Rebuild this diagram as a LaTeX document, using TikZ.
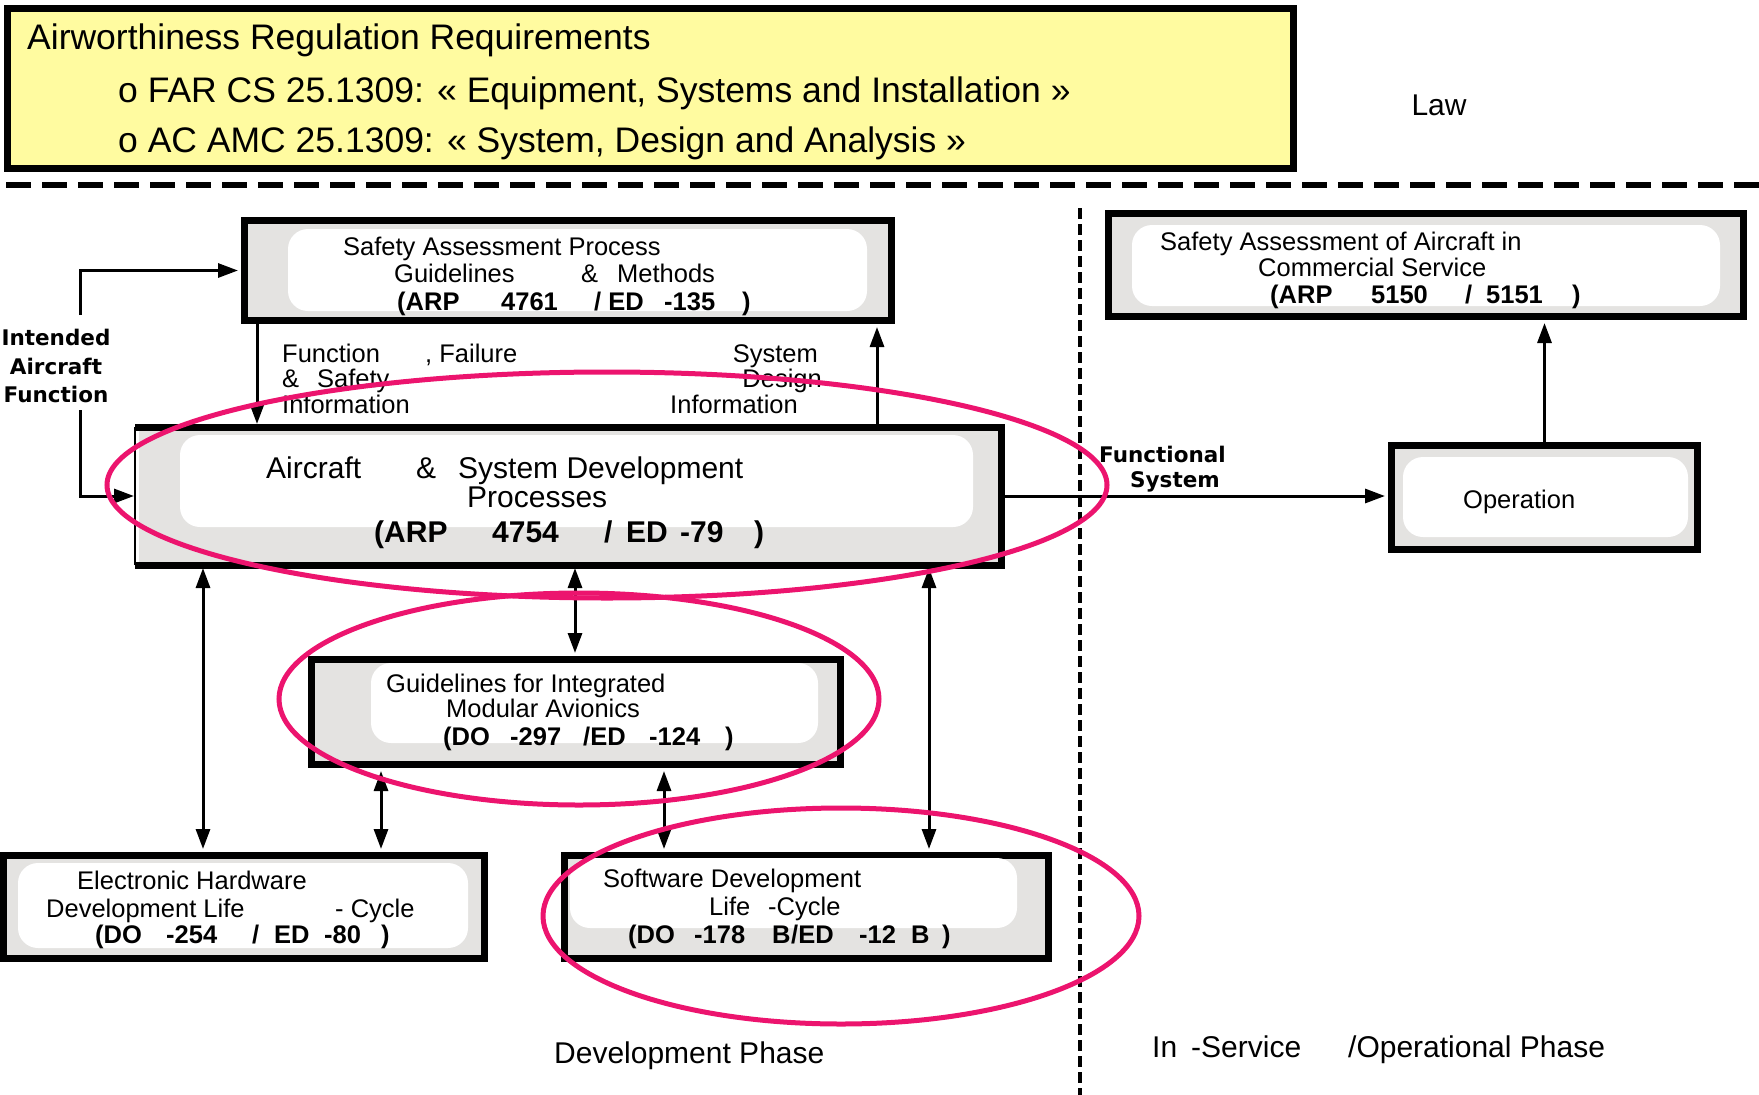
\documentclass[tikz,border=0pt]{standalone}
\usepackage{fontspec}
\setmainfont{Liberation Sans}
\newfontfamily\dvsans{DejaVu Sans}
\usetikzlibrary{arrows.meta}
\definecolor{panelgray}{RGB}{228,227,225}
\definecolor{lawyellow}{RGB}{255,251,160}
\definecolor{markpink}{RGB}{236,20,110}
\begin{document}
\begin{tikzpicture}[x=1pt,y=-1pt,
  panel/.style={draw, line width=7pt, fill=panelgray, inner sep=0pt},
  innerpad/.style={fill=white, rounded corners=20pt},
  txt/.style={inner sep=0pt, anchor=base west, font=\fontsize{25.5}{30}\selectfont},
  txtb/.style={inner sep=0pt, anchor=base west, font=\fontsize{25.5}{30}\selectfont\bfseries},
  bigtxt/.style={inner sep=0pt, anchor=base west, font=\fontsize{30}{34}\selectfont},
  bigtxtb/.style={inner sep=0pt, anchor=base west, font=\fontsize{30}{34}\selectfont\bfseries},
  hdrtxt/.style={inner sep=0pt, anchor=base west, font=\fontsize{35.5}{40}\selectfont},
  flowlabel/.style={inner sep=0pt, font=\dvsans\bfseries\fontsize{21.5}{28.5}\selectfont},
  conn/.style={line width=3pt, shorten >=3pt, >={Triangle[length=20pt,width=14pt]}},
  ring/.style={draw=markpink, line width=5pt},
  rulerH/.style={line width=6pt, dash pattern=on 25pt off 11pt},
  rulerV/.style={line width=3.5pt, dash pattern=on 11pt off 5pt}]

\useasboundingbox (0,0) rectangle (1759,1095);

% regulation header
\node[panel, fill=lawyellow, minimum width=1286pt, minimum height=160pt] (hdr) at (650.5,88.5) {};
\node[hdrtxt] (hdr1) at (27,49) {Airworthiness Regulation Requirements};
\node[hdrtxt] (hdr2) at (118,102) {o FAR CS 25.1309: « Equipment, Systems and Installation »};
\node[hdrtxt] (hdr3) at (118,152) {o AC AMC 25.1309: « System, Design and Analysis »};
\node[inner sep=0pt, anchor=base, font=\fontsize{30}{34}\selectfont] (law) at (1439,115) {Law};

% phase separators
\coordinate (hl) at (6,185);
\coordinate (hr) at (1759,185);
\draw[rulerH] (hl) -- (hr);
\coordinate (vt) at (1080,208);
\coordinate (vb) at (1080,1095);
\draw[rulerV] (vt) -- (vb);

% safety assessment process
\node[panel, minimum width=647pt, minimum height=100pt] (sap) at (568,270.5) {};
\fill[innerpad] (288,229) rectangle (867,311);
\node[txt] (sap1) at (343,255) {Safety Assessment Process};
\node[txt] (sap2) at (394,282) {\makebox[187pt][l]{Guidelines}\makebox[36pt][l]{\&}Methods};
\node[txtb] (sap3) at (397,310) {\makebox[104pt][l]{(ARP}\makebox[93pt][l]{4761}\makebox[70pt][l]{/ ED}\makebox[78pt][l]{-135})};

% aircraft and system development
\node[panel, draw=none, minimum width=859pt, minimum height=131pt] (asd) at (568,496) {};
\draw[line width=7pt, line cap=square] (asd.north west) -- (asd.north east) -- (asd.south east) -- (asd.south west);
\draw[line width=2pt] (asd.south west) -- (asd.north west);
\fill[innerpad] (180,435) rectangle (973,527);
\node[bigtxt] (asd1) at (266,478) {\makebox[150pt][l]{Aircraft}\makebox[42pt][l]{\&}System Development};
\node[bigtxt] (asd2) at (467,507) {Processes};
\node[bigtxtb] (asd3) at (374,542) {\makebox[118pt][l]{(ARP}\makebox[112pt][l]{4754}\makebox[22pt][l]{/}\makebox[54pt][l]{ED}\makebox[74pt][l]{-79})};

% in-service safety assessment
\node[panel, minimum width=635pt, minimum height=103pt] (saac) at (1426,265) {};
\fill[innerpad] (1132,225) rectangle (1720,306);
\node[txt] (saac1) at (1160,250) {Safety Assessment of Aircraft in};
\node[txt] (saac2) at (1258,276) {Commercial Service};
\node[txtb] (saac3) at (1270,303) {\makebox[101pt][l]{(ARP}\makebox[94pt][l]{5150}\makebox[21pt][l]{/}\makebox[86pt][l]{5151})};

% operation
\node[panel, minimum width=306pt, minimum height=104pt] (op) at (1544.5,497.5) {};
\fill[innerpad] (1403,457) rectangle (1688,537);
\node[txt] (op1) at (1463,508) {Operation};

% integrated modular avionics
\node[panel, minimum width=529pt, minimum height=105pt] (ima) at (576,712) {};
\fill[innerpad] (371,663) rectangle (818,743);
\node[txt] (ima1) at (386,692) {Guidelines for Integrated};
\node[txt] (ima2) at (446,717) {Modular Avionics};
\node[txtb] (ima3) at (443,745) {\makebox[67pt][l]{(DO}\makebox[73pt][l]{-297}\makebox[66pt][l]{/ED}\makebox[76pt][l]{-124})};

% electronic hardware
\node[panel, minimum width=481pt, minimum height=103pt] (hw) at (244,907) {};
\fill[innerpad] (18,863) rectangle (468,948);
\node[txt] (hw1) at (77,889) {Electronic Hardware};
\node[txt] (hw2) at (46,917) {\makebox[289pt][l]{Development Life}- Cycle};
\node[txtb] (hw3) at (95,943) {\makebox[71pt][l]{(DO}\makebox[86pt][l]{-254}\makebox[22pt][l]{/}\makebox[50pt][l]{ED}\makebox[57pt][l]{-80})};

% software
\node[panel, minimum width=484pt, minimum height=103pt] (sw) at (806.5,907) {};
\fill[innerpad] (570,858) rectangle (1017,928);
\node[txt] (sw1) at (603,887) {Software Development};
\node[txt] (sw2) at (709,915) {\makebox[59pt][l]{Life}-Cycle};
\node[txtb] (sw3) at (628,943) {\makebox[66pt][l]{(DO}\makebox[78pt][l]{-178}\makebox[19pt][l]{B}\makebox[68pt][l]{/ED}\makebox[52pt][l]{-12}\makebox[31pt][l]{B})};

% information flow labels
\node[txt] (ff1) at (282,362) {\makebox[143pt][l]{Function}, Failure};
\node[txt] (ff2) at (282,387) {\makebox[35pt][l]{\&}Safety};
\node[txt] (ff3) at (282,413) {Information};
\node[txt, anchor=base east] (sd1) at (818,362) {System};
\node[txt, anchor=base east] (sd2) at (822,387) {Design};
\node[txt, anchor=base east] (sd3) at (798,413) {Information};
\node[flowlabel, align=center] (ia) at (56,366) {Intended\\Aircraft\\Function};
\node[flowlabel, align=left, anchor=north west, font=\dvsans\bfseries\fontsize{21.5}{25}\selectfont] (fs) at (1099,446) {Functional\\\hspace*{31pt}System};

% phase labels
\node[bigtxt] (devph) at (554,1063) {Development Phase};
\node[bigtxt] (opph) at (1152,1057) {\makebox[39pt][l]{In}\makebox[157pt][l]{-Service}/Operational Phase};

% connectors
\coordinate (iaTop) at (80,315);
\coordinate (iaBot) at (80,410);
\draw[conn,->] (iaTop) |- (sap.west);
\draw[conn,->, shorten >=1pt] (iaBot) |- (asd.west);
\coordinate (xdn) at (257,0);
\coordinate (xup) at (877,0);
\draw[conn,->] (sap.south -| xdn) -- (asd.north -| xdn);
\draw[conn,->] (asd.north -| xup) -- (sap.south -| xup);
\draw[conn,->] (asd.east) -- (asd.east -| op.west);
\draw[conn,->] (op.north) -- (op.north |- saac.south);
\coordinate (xhw) at (203,0);
\coordinate (xima) at (575,0);
\coordinate (xsw) at (929,0);
\coordinate (xih) at (381,0);
\coordinate (xis) at (664,0);
\draw[conn,<->, shorten <=3pt] (asd.south -| xhw) -- (hw.north -| xhw);
\draw[conn,<->, shorten <=3pt] (asd.south -| xima) -- (ima.north -| xima);
\draw[conn,<->, shorten <=3pt] (asd.south -| xsw) -- (sw.north -| xsw);
\draw[conn,<->, shorten <=3pt] (ima.south -| xih) -- (hw.north -| xih);
\draw[conn,<->, shorten <=3pt] (ima.south -| xis) -- (sw.north -| xis);

% highlight rings
\draw[ring] (607,485) ellipse [x radius=500pt, y radius=113pt];
\draw[ring] (579,699) ellipse [x radius=300pt, y radius=106pt];
\draw[ring] (841,916) ellipse [x radius=298pt, y radius=108pt];
\end{tikzpicture}
\end{document}
